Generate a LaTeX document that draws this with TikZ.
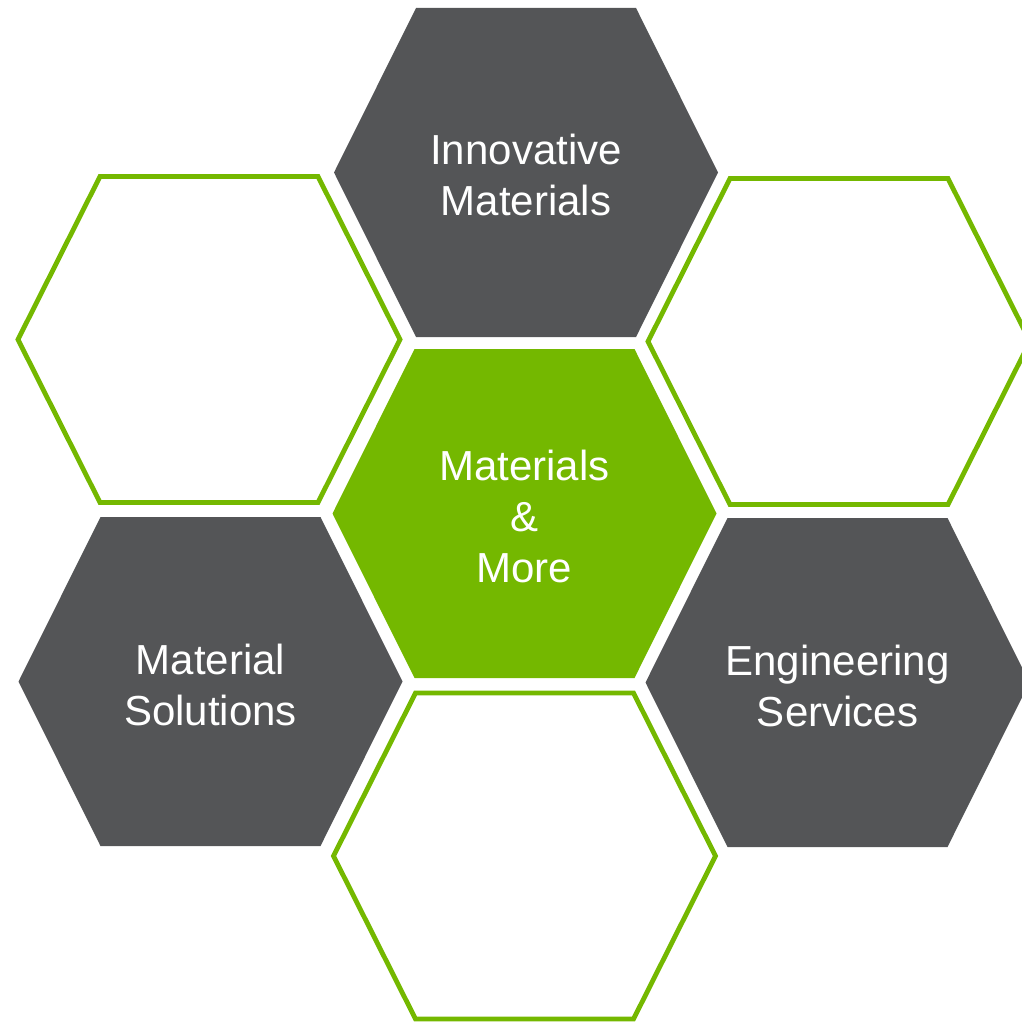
\documentclass[tikz,border=0pt]{standalone}
\usepackage{fontspec}
\setmainfont{Liberation Sans}
\definecolor{hexgray}{HTML}{545557}
\definecolor{hexgreen}{HTML}{74B800}
\begin{document}
\begin{tikzpicture}[x=0.5pt,y=-0.5pt,
  hexfill/.pic={\fill[pic actions] (-192,0) -- (-110,-164.5) -- (110,-164.5) -- (192,0) -- (110,164.5) -- (-110,164.5) -- cycle;},
  hexline/.pic={\draw[pic actions] (-191,0) -- (-109,-163) -- (109,-163) -- (191,0) -- (109,163) -- (-109,163) -- cycle;},
  hexborder/.style={draw=hexgreen, line width=2.4pt},
  hextext/.style={text=white, align=center, inner sep=0pt, font=\fontsize{21}{25.5}\selectfont}]
\useasboundingbox (0,0) rectangle (1022,1022);
\clip (0,0) rectangle (1022,1022);

% filled cells
\pic[fill=hexgray]  at (526,172.5) {hexfill};
\pic[fill=hexgreen] at (524.5,513.5) {hexfill};
\pic[fill=hexgray]  at (210.5,681.5) {hexfill};
\pic[fill=hexgray]  at (837.5,682.5) {hexfill};

% outlined cells
\pic[hexborder] at (209,339.5) {hexline};
\pic[hexborder] at (839,341.5) {hexline};
\pic[hexborder] at (524.5,856) {hexline};

% captions
\node[hextext] (innov) at (526,175) {Innovative\\Materials};
\node[hextext] (core)  at (524.5,516) {Materials\\\&\\More};
\node[hextext] (solut) at (210.5,685) {Material\\Solutions};
\node[hextext] (engin) at (837.5,686) {Engineering\\Services};
\end{tikzpicture}
\end{document}
